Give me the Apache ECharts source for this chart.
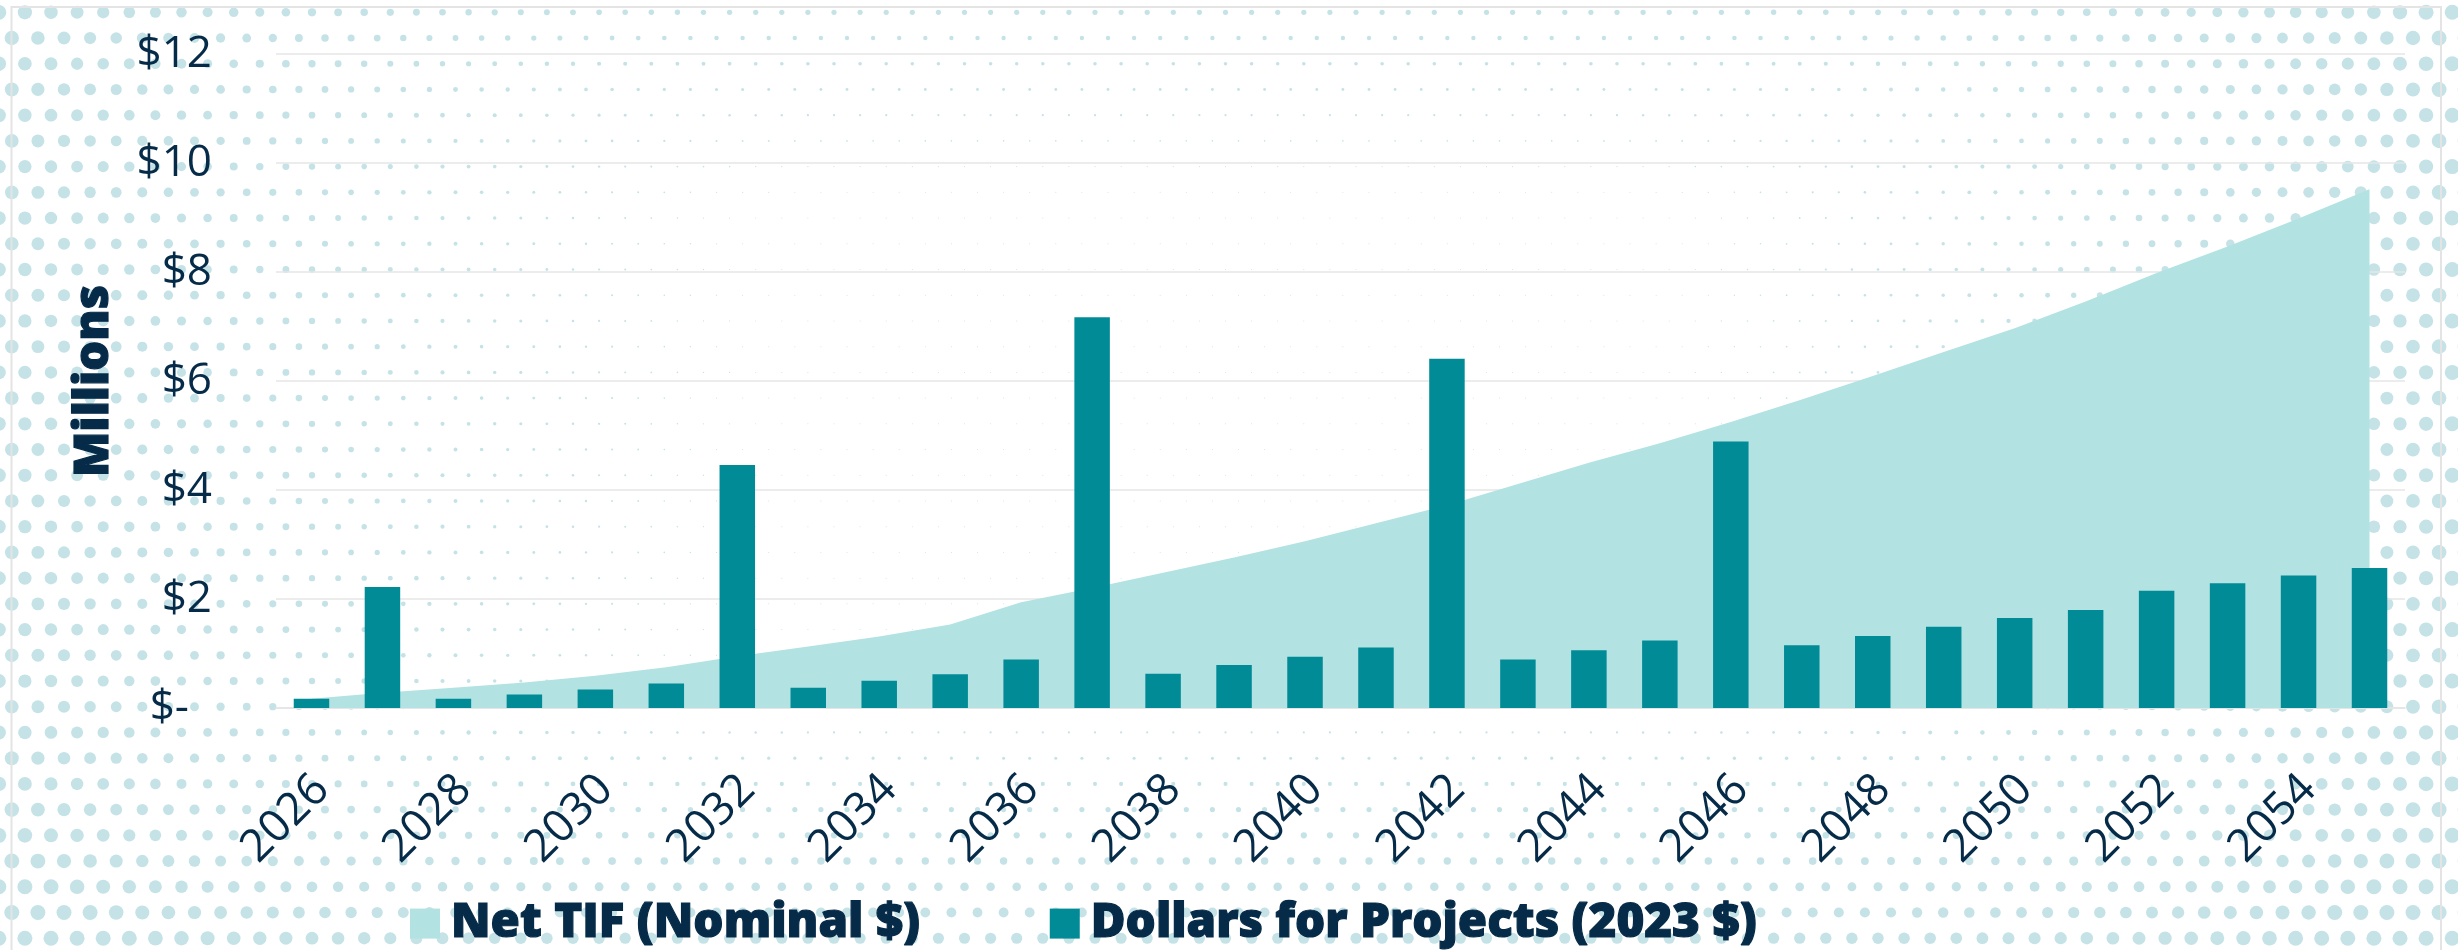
<!DOCTYPE html>
<html>
<head>
<meta charset="utf-8">
<script src="https://cdn.jsdelivr.net/npm/echarts@6/dist/echarts.min.js"></script>
<style>
  html, body { margin: 0; padding: 0; background: #ffffff; }
  #wrap { position: relative; width: 2458px; height: 950px; overflow: hidden; }
  #bg { position: absolute; left: 0; top: 0; }
  #chart { position: absolute; left: 0; top: 0; width: 2458px; height: 950px; }
</style>
</head>
<body>
<div id="wrap">
  <canvas id="bg" width="2458" height="950"></canvas>
  <div id="chart"></div>
</div>
<script>
// ---------------- data ----------------
const years = ['2026','2027','2028','2029','2030','2031','2032','2033','2034','2035',
               '2036','2037','2038','2039','2040','2041','2042','2043','2044','2045',
               '2046','2047','2048','2049','2050','2051','2052','2053','2054','2055'];
// Net TIF (Nominal $), millions
const netTif = [0.17, 0.28, 0.37, 0.47, 0.59, 0.75, 0.95, 1.13, 1.31, 1.53,
                1.94, 2.20, 2.48, 2.76, 3.06, 3.39, 3.72, 4.11, 4.50, 4.86,
                5.25, 5.66, 6.09, 6.53, 6.97, 7.46, 7.98, 8.47, 8.98, 9.52];
// Dollars for Projects (2023 $), millions
const projects = [0.17, 2.22, 0.17, 0.25, 0.34, 0.45, 4.46, 0.37, 0.50, 0.62,
                  0.89, 7.17, 0.63, 0.79, 0.94, 1.11, 6.41, 0.89, 1.06, 1.24,
                  4.89, 1.15, 1.32, 1.49, 1.65, 1.80, 2.15, 2.29, 2.43, 2.57];
const seriesNames = ['Net TIF (Nominal $)', 'Dollars for Projects (2023 $)'];
const yTicks = { min: 0, max: 12, interval: 2 };
const axisTitle = 'Millions';

// ---------------- decorative halftone background ----------------
(function drawBackground() {
  const W = 2458, H = 950;
  const ctx = document.getElementById('bg').getContext('2d');
  ctx.fillStyle = '#ffffff';
  ctx.fillRect(0, 0, W, H);
  ctx.fillStyle = 'rgb(197,227,231)';
  const cx = 1150;
  function rad(x, y) {
    const rx = x < cx ? 7 * Math.pow((cx - x) / 1150, 2.5) : 7.5 * Math.pow((x - cx) / 1300, 3);
    const rb = y > 650 ? 5.6 * Math.pow((y - 650) / 290, 1.3) : 0;
    const rt = y < 260 ? 2.8 * Math.pow(1 - y / 260, 1.6) : 0;
    return Math.min(Math.sqrt(rx * rx + rb * rb + rt * rt), 7.5);
  }
  for (let k = 0; ; k++) {
    const y = 12.3 + 25.72 * k;
    if (y > H + 10) break;
    const x0 = (k % 2 === 1) ? 11.8 : 24.9;
    for (let j = -1; ; j++) {
      const x = x0 + 26.1 * j;
      if (x > W + 10) break;
      let r = rad(x, y);
      if (r < 0.5) r = 0.5;
      ctx.beginPath();
      ctx.arc(x, y, r, 0, Math.PI * 2);
      ctx.fill();
    }
  }
  // light frame
  ctx.strokeStyle = '#e4e4e4';
  ctx.lineWidth = 2;
  ctx.strokeRect(11.5, 7, 2429.5, 960);
})();

// ---------------- chart ----------------
const navy = '#062b48';
const font = 'Open Sans';
const chart = echarts.init(document.getElementById('chart'), null, { renderer: 'canvas' });
chart.setOption({
  backgroundColor: 'transparent',
  animation: false,
  grid: { left: 276, right: 53, top: 54, bottom: 242, containLabel: false },
  legend: {
    data: seriesNames,
    left: 410,
    top: 899,
    padding: 0,
    itemWidth: 30,
    itemHeight: 30,
    itemGap: 129,
    icon: 'rect',
    textStyle: {
      fontFamily: font, fontWeight: 800, fontSize: 47.5, color: navy,
      textBorderColor: navy, textBorderWidth: 1.2,
      padding: [0, 0, 0, 6]
    }
  },
  xAxis: {
    type: 'category',
    data: years,
    boundaryGap: true,
    axisLine: { show: true, lineStyle: { color: '#e4e4e4', width: 1.5 } },
    axisTick: { show: false },
    axisLabel: {
      interval: 1,
      rotate: 45,
      margin: 85,
      padding: [0, -15, 0, 0],
      fontFamily: font,
      fontSize: 45,
      color: navy
    },
    splitLine: { show: false }
  },
  yAxis: {
    type: 'value',
    min: yTicks.min,
    max: yTicks.max,
    interval: yTicks.interval,
    name: axisTitle,
    nameLocation: 'middle',
    nameRotate: 90,
    nameGap: 158,
    nameTextStyle: {
      fontFamily: font, fontWeight: 800, fontSize: 47, color: navy,
      textBorderColor: navy, textBorderWidth: 1.2
    },
    axisLine: { show: false },
    axisTick: { show: false },
    axisLabel: {
      margin: 64,
      fontFamily: font,
      fontSize: 44,
      color: navy,
      formatter: function (v) { return v === 0 ? '{z|$-}' : '$' + v; },
      rich: { z: { fontFamily: font, fontSize: 44, color: navy, padding: [0, 23, 0, 0] } }
    },
    splitLine: { show: true, lineStyle: { color: '#e6e6e6', width: 1.5 } }
  },
  series: [
    {
      name: seriesNames[0],
      type: 'line',
      data: netTif,
      symbol: 'none',
      lineStyle: { width: 0 },
      areaStyle: { color: '#b2e2e2', opacity: 1 },
      itemStyle: { color: '#b2e2e2' },
      z: 1
    },
    {
      name: seriesNames[1],
      type: 'bar',
      data: projects,
      barWidth: '50%',
      itemStyle: { color: '#008b96' },
      z: 2
    }
  ]
});
</script>
</body>
</html>
